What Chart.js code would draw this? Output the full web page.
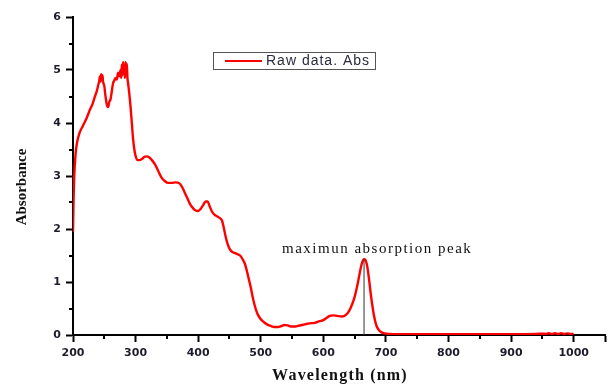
<!DOCTYPE html>
<html>
<head>
<meta charset="utf-8">
<script src="https://cdn.jsdelivr.net/npm/chart.js@4/dist/chart.umd.min.js"></script>
<style>
  body { margin: 0; background: #fff; }
  #wrap { width: 615px; height: 385px; }
</style>
</head>
<body>
<div id="wrap"><canvas id="spectrum" width="615" height="385"></canvas></div>
<script>
// Wavelength (nm) and absorbance
const wavelengths = [200, 201, 202, 204, 206, 210, 216, 222, 227, 231, 235, 238, 240, 242, 243, 244, 245, 246, 247, 248, 250, 252, 254, 256, 258, 260, 262, 264, 266, 268, 270, 272, 274, 276, 277, 278, 279, 280, 281, 282, 283, 284, 285, 286, 287, 288, 290, 292, 294, 296, 298, 300, 303, 306, 310, 314, 318, 322, 326, 331, 336, 341, 347, 352, 358, 364, 370, 374, 378, 382, 387, 392, 396, 400, 404, 408, 412, 415, 418, 422, 426, 430, 434, 438, 441, 444, 447, 450, 454, 458, 462, 467, 471, 475, 478, 481, 484, 487, 490, 494, 498, 503, 510, 516, 522, 528, 533, 538, 543, 548, 555, 562, 570, 578, 586, 594, 600, 605, 610, 616, 622, 630, 636, 641, 646, 650, 654, 657, 660, 663, 665, 667, 670, 673, 676, 679, 682, 685, 689, 693, 698, 705, 720, 760, 800, 850, 900, 940, 950, 955, 960, 965, 970, 975, 980, 985, 990, 995, 1000];
const absorbance = [1.95, 2.6, 3.0, 3.4, 3.6, 3.8, 3.95, 4.1, 4.25, 4.35, 4.5, 4.6, 4.7, 4.8, 4.88, 4.78, 4.92, 4.82, 4.9, 4.78, 4.7, 4.5, 4.35, 4.3, 4.4, 4.45, 4.6, 4.75, 4.8, 4.85, 4.82, 4.95, 4.88, 5.0, 4.85, 5.1, 4.9, 5.15, 4.95, 5.05, 4.85, 5.15, 4.9, 5.12, 4.85, 4.75, 4.55, 4.3, 4.0, 3.7, 3.5, 3.38, 3.3, 3.3, 3.32, 3.36, 3.37, 3.35, 3.3, 3.22, 3.1, 2.98, 2.9, 2.87, 2.87, 2.88, 2.86, 2.8, 2.7, 2.6, 2.47, 2.39, 2.35, 2.34, 2.38, 2.45, 2.52, 2.52, 2.44, 2.33, 2.27, 2.24, 2.21, 2.16, 2.02, 1.85, 1.72, 1.63, 1.57, 1.55, 1.53, 1.5, 1.43, 1.33, 1.2, 1.05, 0.9, 0.72, 0.57, 0.42, 0.33, 0.26, 0.2, 0.17, 0.15, 0.15, 0.17, 0.19, 0.18, 0.16, 0.16, 0.18, 0.2, 0.22, 0.23, 0.26, 0.28, 0.32, 0.36, 0.37, 0.36, 0.35, 0.38, 0.45, 0.58, 0.72, 0.92, 1.1, 1.28, 1.4, 1.43, 1.42, 1.3, 1.05, 0.75, 0.5, 0.3, 0.17, 0.09, 0.05, 0.03, 0.02, 0.015, 0.015, 0.015, 0.015, 0.015, 0.02, 0.025, 0.02, 0.035, 0.02, 0.035, 0.02, 0.035, 0.02, 0.03, 0.02, 0.02];

const xTicks = [200, 300, 400, 500, 600, 700, 800, 900, 1000, 1050];
const xMinorTicks = [250, 350, 450, 550, 650, 750, 850, 950];
const yTicks = [0, 1, 2, 3, 4, 5, 6];
const yMinorTicks = [0.5, 1.5, 2.5, 3.5, 4.5, 5.5];

const peakX = 665;
const peakY = 1.43;
const peakLabel = 'maximun absorption peak';
const seriesName = 'Raw data. Abs';
const xTitle = 'Wavelength (nm)';
const yTitle = 'Absorbance';

// draws minor ticks, axis titles, the legend box and the peak label
const extrasPlugin = {
  id: 'extras',
  afterDraw(chart) {
    const ctx = chart.ctx;
    const xs = chart.scales.x;
    const ys = chart.scales.y;
    const area = chart.chartArea;
    ctx.save();
    ctx.strokeStyle = '#000';
    ctx.lineWidth = 2;
    ctx.beginPath();
    xMinorTicks.forEach(v => {
      const px = Math.round(xs.getPixelForValue(v));
      ctx.moveTo(px, area.bottom);
      ctx.lineTo(px, area.bottom + 4);
    });
    yMinorTicks.forEach(v => {
      const py = Math.round(ys.getPixelForValue(v));
      ctx.moveTo(area.left, py);
      ctx.lineTo(area.left - 4, py);
    });
    ctx.stroke();

    // axis titles
    ctx.fillStyle = '#111';
    ctx.font = 'bold 16px "Liberation Serif", "Times New Roman", serif';
    ctx.letterSpacing = '1.2px';
    ctx.textAlign = 'center';
    ctx.textBaseline = 'middle';
    ctx.fillText(xTitle, (area.left + area.right) / 2 + 1, 376);
    ctx.save();
    ctx.translate(22, 187);
    ctx.rotate(-Math.PI / 2);
    ctx.font = 'bold 15px "Liberation Serif", "Times New Roman", serif';
    ctx.letterSpacing = '0px';
    ctx.fillText(yTitle, 0, 0);
    ctx.restore();

    // legend
    ctx.lineWidth = 1;
    ctx.strokeStyle = '#555';
    ctx.strokeRect(213.5, 52.5, 162, 17);
    ctx.strokeStyle = '#ff0000';
    ctx.lineWidth = 2;
    ctx.beginPath();
    ctx.moveTo(225, 61);
    ctx.lineTo(262, 61);
    ctx.stroke();
    ctx.fillStyle = '#2a2a40';
    ctx.font = '14px "Liberation Sans", Arial, sans-serif';
    ctx.letterSpacing = '1px';
    ctx.textBaseline = 'middle';
    ctx.textAlign = 'left';
    ctx.fillText(seriesName, 266, 61);

    // peak label
    ctx.fillStyle = '#111';
    ctx.font = '15px "Liberation Serif", "Times New Roman", serif';
    ctx.letterSpacing = '1.5px';
    ctx.textAlign = 'center';
    ctx.textBaseline = 'alphabetic';
    ctx.fillText(peakLabel, xs.getPixelForValue(686), ys.getPixelForValue(1.55));
    ctx.restore();
  }
};

const ctx = document.getElementById('spectrum').getContext('2d');
new Chart(ctx, {
  type: 'line',
  data: {
    datasets: [{
      label: 'peak marker',
      data: [{ x: peakX, y: 0 }, { x: peakX, y: peakY }],
      borderColor: '#333',
      borderWidth: 1,
      pointRadius: 0,
      order: 0
    }, {
      label: seriesName,
      data: wavelengths.map((w, i) => ({ x: w, y: absorbance[i] })),
      borderColor: '#ff0000',
      borderWidth: 2.4,
      pointRadius: 0,
      cubicInterpolationMode: 'monotone',
      order: 1
    }]
  },
  options: {
    responsive: false,
    animation: false,
    layout: { padding: { top: 17, right: 10, left: 0, bottom: 0 } },
    plugins: {
      legend: { display: false },
      tooltip: { enabled: false }
    },
    scales: {
      x: {
        type: 'linear',
        min: 200,
        max: 1050,
        afterBuildTicks: s => { s.ticks = xTicks.map(v => ({ value: v })); },
        afterFit: s => { s.height = 50; },
        grid: { drawOnChartArea: false, tickLength: 7, tickColor: '#000', tickWidth: 2 },
        border: { color: '#000', width: 2 },
        ticks: {
          padding: 5,
          color: '#1c1c2c',
          font: { family: '"DejaVu Sans", Arial, sans-serif', size: 11, weight: 'bold' },
          callback: v => (v === 1050 ? '' : v),
          maxRotation: 0
        }
      },
      y: {
        min: 0,
        max: 6,
        afterBuildTicks: s => { s.ticks = yTicks.map(v => ({ value: v })); },
        afterFit: s => { s.width = 73; },
        grid: { drawOnChartArea: false, tickLength: 7, tickColor: '#000', tickWidth: 2 },
        border: { color: '#000', width: 2 },
        ticks: {
          padding: 5,
          color: '#1c1c2c',
          font: { family: '"DejaVu Sans", Arial, sans-serif', size: 11, weight: 'bold' }
        }
      }
    }
  },
  plugins: [extrasPlugin]
});
</script>
</body>
</html>
